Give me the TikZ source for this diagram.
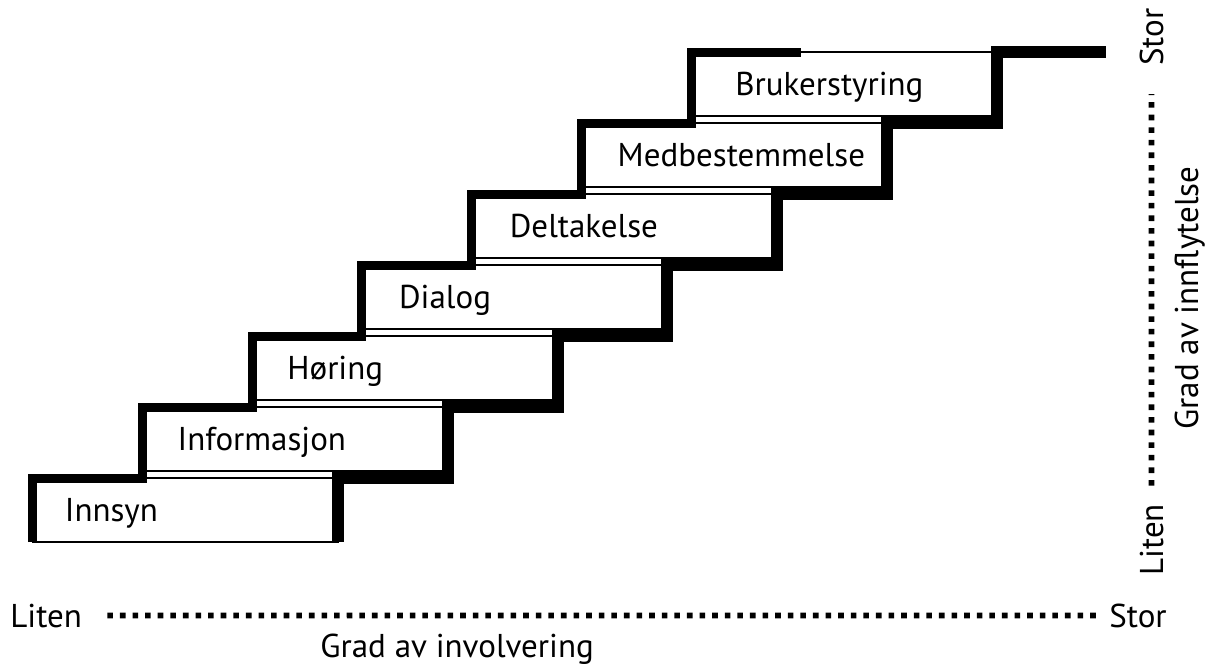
\documentclass[tikz,border=0pt]{standalone}
\usepackage{fontspec}
\setmainfont{PT Sans}
\usepackage{tikz}

\begin{document}
\begin{tikzpicture}[x=0.5pt, y=-0.5pt,
  stepbox/.style={draw, line width=0.9pt, minimum width=152.75pt, minimum height=32pt, inner sep=0pt, outer sep=0pt},
  lbl/.style={font=\fontsize{16.5}{18}\selectfont, inner sep=0pt},
  outline/.style={line width=4.5pt, line join=miter},
  rim/.style={line width=6pt, line join=miter},
  axis/.style={line width=2.8pt, dash pattern=on 2.8pt off 3.5pt}]
  \useasboundingbox (0,0) rectangle (1208,666);
  \foreach \i/\name/\off in {0/Innsyn/32, 1/Informasjon/35, 2/Høring/35, 3/Dialog/37,
      4/Deltakelse/38, 5/Medbestemmelse/36, 6/Brukerstyring/44} {
    \node[stepbox] (b\i) at (185.25+109.75*\i, 510-71*\i) {};
    \node[lbl, anchor=base west] (t\i) at ([xshift=\off*0.5pt, yshift=-5.75pt]b\i.west) {\name};
  }
  \coordinate (rimend) at (1106,52);
  \draw[outline] (b0.south west) -- (b0.north west)
    foreach \i/\j in {0/1,1/2,2/3,3/4,4/5,5/6} { -- (b\j.west |- b\i.north) -- (b\j.north west) }
    -- ++(109.75,0);
  \draw[rim] (b0.south east) -- (b0.north east)
    foreach \i/\j in {0/1,1/2,2/3,3/4,4/5,5/6} { -- (b\j.east |- b\i.north) -- (b\j.north east) }
    -- (rimend);
  % involvering
  \node[lbl, anchor=base west] (hl) at (10,627) {Liten};
  \node[lbl, anchor=base west] (hs) at (1109,627) {Stor};
  \node[lbl, anchor=base west] (hx) at (320,657) {Grad av involvering};
  \draw[axis, shorten <=12.5pt, shorten >=4.5pt] (hl.east) -- (hs.west);
  % innflytelse
  \node[lbl, rotate=90, anchor=base west] (vl) at (1163,576) {Liten};
  \node[lbl, rotate=90, anchor=base west] (vs) at (1163,66) {Stor};
  \node[lbl, rotate=90, anchor=base west] (vx) at (1198,430) {Grad av innflytelse};
  \draw[axis, shorten <=9pt, shorten >=14pt] (vl.east) -- (vs.west);
\end{tikzpicture}
\end{document}
